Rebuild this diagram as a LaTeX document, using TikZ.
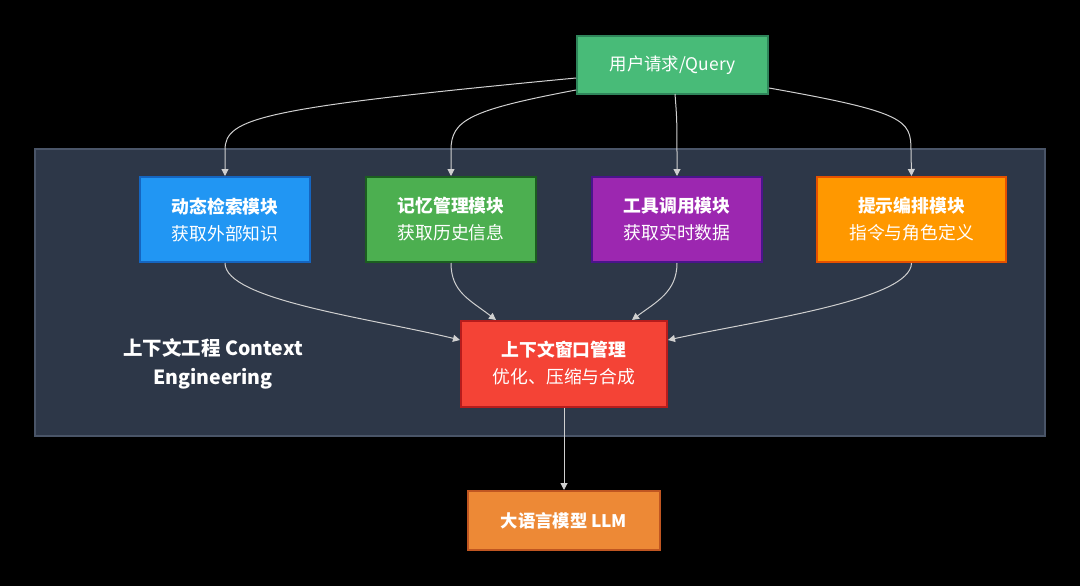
\documentclass[tikz,border=0pt]{standalone}
\usepackage{fontspec}
\setmainfont{Noto Sans CJK SC}
\usetikzlibrary{arrows.meta}
\definecolor{bgdark}{HTML}{2D3748}
\definecolor{bgedge}{HTML}{4A5568}
\definecolor{qfill}{HTML}{48BB78}
\definecolor{qedge}{HTML}{2F855A}
\definecolor{bfill}{HTML}{2196F3}
\definecolor{bedge}{HTML}{1565C0}
\definecolor{gfill}{HTML}{4CAF50}
\definecolor{gedge}{HTML}{1B5E20}
\definecolor{pfill}{HTML}{9C27B0}
\definecolor{pedge}{HTML}{4A148C}
\definecolor{ofill}{HTML}{FF9800}
\definecolor{oedge}{HTML}{E65100}
\definecolor{rfill}{HTML}{F44336}
\definecolor{redge}{HTML}{B71C1C}
\definecolor{lfill}{HTML}{ED8936}
\definecolor{ledge}{HTML}{C05621}
\definecolor{wire}{HTML}{D0D0D0}
\tikzset{
  box/.style={draw, line width=2pt, inner sep=0pt, text=white, align=center,
    font=\fontsize{17.8}{27}\selectfont},
  wireline/.style={draw=wire, line width=1pt, -{Triangle[length=7pt,width=7pt]}},
}
\begin{document}
\begin{tikzpicture}[x=1pt,y=-1pt]
\fill[black] (0,0) rectangle (1080,586);
\useasboundingbox (0,0) rectangle (1080,586);
% container
\node[draw=bgedge, fill=bgdark, line width=1.5pt, minimum width=1010pt, minimum height=287pt, inner sep=0pt] (ctx) at (540,292.5) {};
\node[text=white, align=center, font=\bfseries\fontsize{19.5}{29}\selectfont] (ctxlabel) at (213,363.5) {上下文工程 Context\\Engineering};
% nodes
\node[box, fill=qfill, draw=qedge, minimum width=191pt, minimum height=58pt, font=\fontsize{17.4}{27}\selectfont] (q) at (672.5,65) {用户请求/Query};
\node[box, fill=bfill, draw=bedge, minimum width=170pt, minimum height=85pt] (b) at (225,219.5) {\textbf{动态检索模块}\\获取外部知识};
\node[box, fill=gfill, draw=gedge, minimum width=170pt, minimum height=85pt] (g) at (451,219.5) {\textbf{记忆管理模块}\\获取历史信息};
\node[box, fill=pfill, draw=pedge, minimum width=170pt, minimum height=85pt] (p) at (677,219.5) {\textbf{工具调用模块}\\获取实时数据};
\node[box, fill=ofill, draw=oedge, minimum width=189pt, minimum height=85pt] (o) at (911.5,219.5) {\textbf{提示编排模块}\\指令与角色定义};
\node[box, fill=rfill, draw=redge, minimum width=206pt, minimum height=86pt] (r) at (564,363.5) {\textbf{上下文窗口管理}\\优化、压缩与合成};
\node[box, fill=lfill, draw=ledge, minimum width=192pt, minimum height=59pt, font=\bfseries\fontsize{17.3}{27}\selectfont] (l) at (564,520.5) {大语言模型 LLM};
% connectors
\draw[wireline] (q.west |- 0,78) .. controls (260,108) and (225,118) .. (225,150) -- (b.north);
\draw[wireline] (q.west |- 0,90) .. controls (470,110) and (451,120) .. (451,150) -- (g.north);
\draw[wireline] (675,94) .. controls (677,120) .. (p.north);
\draw[wireline] (q.east |- 0,88) .. controls (905,112) and (911,120) .. (911,150) -- (o.north);
\draw[wireline] (b.south) .. controls (225,300) and (370,318) .. (r.west |- 0,340);
\draw[wireline] (g.south) .. controls (451,292) and (470,300) .. (496,320);
\draw[wireline] (p.south) .. controls (677,292) and (656,302) .. (632,320);
\draw[wireline] (o.south) .. controls (911,300) and (760,320) .. (r.east |- 0,340);
\draw[wireline] (r.south) -- (l.north);
\end{tikzpicture}
\end{document}
